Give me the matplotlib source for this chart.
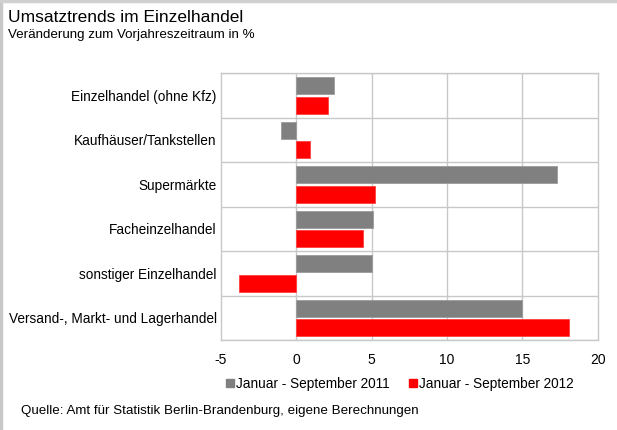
import matplotlib.pyplot as plt
import numpy as np
from matplotlib.lines import Line2D

plt.rcParams['font.family'] = ['Liberation Sans', 'DejaVu Sans']

kategorien = ['Einzelhandel (ohne Kfz)', 'Kaufhäuser/Tankstellen', 'Supermärkte',
              'Facheinzelhandel', 'sonstiger Einzelhandel',
              'Versand-, Markt- und Lagerhandel']
werte_2011 = [2.5, -1.0, 17.3, 5.1, 5.0, 15.0]
werte_2012 = [2.1, 0.9, 5.2, 4.4, -3.8, 18.1]
serien = ['Januar - September 2011', 'Januar - September 2012']
farben = ['#808080', '#ff0000']

fig = plt.figure(figsize=(6.17, 4.3), dpi=100)
ax = fig.add_axes([0.358, 0.209, 0.611, 0.621])

y = np.arange(len(kategorien))
h = 0.38
ax.barh(y - 0.22, werte_2011, height=h, color=farben[0], edgecolor='#9a9a9a', linewidth=0.6, zorder=3)
ax.barh(y + 0.22, werte_2012, height=h, color=farben[1], edgecolor='#ff4040', linewidth=0.6, zorder=3)

ax.set_xlim(-5, 20)
ax.set_ylim(len(kategorien) - 0.5, -0.5)
ax.set_xticks([-5, 0, 5, 10, 15, 20])
ax.set_xticklabels(['-5', '0', '5', '10', '15', '20'], fontsize=10)
ax.set_yticks(y)
ax.set_yticklabels(kategorien, fontsize=9.8)
ax.tick_params(length=0)
ax.tick_params(axis='y', pad=3)
ax.tick_params(axis='x', pad=9)

# Trennlinien zwischen den Kategorien und senkrechtes Gitter
for yy in np.arange(-0.5, len(kategorien), 1):
    ax.axhline(yy, color='#c8c8c8', linewidth=1, zorder=1)
for xx in [0, 5, 10, 15]:
    ax.axvline(xx, color='#c8c8c8', linewidth=1, zorder=1)
for s in ax.spines.values():
    s.set_color('#c8c8c8')
    s.set_linewidth(1)

fig.text(0.013, 0.948, 'Umsatztrends im Einzelhandel', fontsize=12.5, va='baseline')
fig.text(0.013, 0.911, 'Veränderung zum Vorjahreszeitraum in %', fontsize=9.6, va='baseline')

handles = [Line2D([], [], marker='s', linestyle='', color=c, markersize=6) for c in farben]
fig.legend(handles, serien, loc='center', bbox_to_anchor=(0.647, 0.108), ncol=2,
           frameon=False, fontsize=9.8, handletextpad=0.05, columnspacing=1.3,
           handlelength=0.8)

fig.text(0.034, 0.038, 'Quelle: Amt für Statistik Berlin-Brandenburg, eigene Berechnungen',
         fontsize=9.6, va='baseline')

# Rahmen links und oben
fig.add_artist(Line2D([0.002, 0.002], [0, 1], transform=fig.transFigure, color='#c8c8c8', linewidth=2.5))
fig.add_artist(Line2D([0, 1], [0.997, 0.997], transform=fig.transFigure, color='#d0d0d0', linewidth=2.5))

fig.savefig('out.png', dpi=100)
